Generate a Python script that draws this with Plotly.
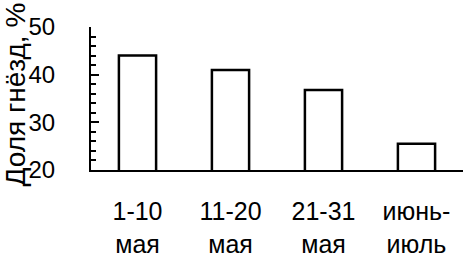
import plotly.graph_objects as go

categories = ["1-10<br>мая", "11-20<br>мая", "21-31<br>мая", "июнь-<br>июль"]
shares = [44.0, 41.0, 36.8, 25.5]
y_ticks = [20, 30, 40, 50]
y_title = "Доля гнёзд, %"

FONT = "Arial, Liberation Sans, sans-serif"

fig = go.Figure(go.Bar(
    x=categories, y=shares,
    marker=dict(color="white", line=dict(color="black", width=2.5)),
))

fig.update_layout(
    width=463, height=258,
    margin=dict(l=91, r=0, t=27, b=88),
    paper_bgcolor="white", plot_bgcolor="white",
    bargap=0.6,
    showlegend=False,
    font=dict(family=FONT, color="black"),
)

fig.add_annotation(
    text=y_title, textangle=-90,
    xref="paper", x=0, xanchor="center", xshift=-76,
    yref="paper", y=0.5, yanchor="middle", yshift=4,
    showarrow=False,
    font=dict(size=28, family=FONT, color="black"),
)

fig.update_xaxes(
    showline=True, linecolor="black", linewidth=2,
    ticks="", showgrid=False,
    tickfont=dict(size=25, family=FONT, color="black"),
    ticklabelstandoff=18,
    automargin=False,
)

fig.update_yaxes(
    range=[20, 50], tickvals=y_ticks,
    showline=True, linecolor="black", linewidth=2,
    ticks="inside", ticklen=8, tickwidth=2, tickcolor="black",
    minor=dict(dtick=2, ticks="inside", ticklen=5, tickwidth=2, tickcolor="black", showgrid=False),
    showgrid=False, zeroline=False,
    tickfont=dict(size=24, family=FONT, color="black"),
    ticklabelstandoff=29,
    automargin=False,
)

fig.write_html("out.html", config={"displayModeBar": False},
               post_script="document.body.style.margin='0';")
